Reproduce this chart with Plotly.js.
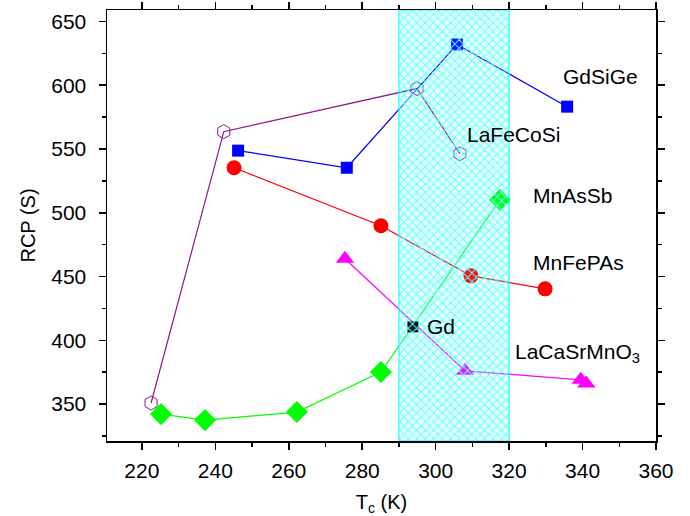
<!DOCTYPE html>
<html><head><meta charset="utf-8">
<script src="https://cdn.plot.ly/plotly-3.0.1.min.js"></script>
<style>html,body{margin:0;padding:0;background:#fff}#chart{width:690px;height:516px}</style>
</head><body><div id="chart"></div>
<script>
// LaFeCoSi (open hexagons, purple)
const hexX = [222.5, 242.3, 294.9, 306.6];
const hexY = [350.8, 563.6, 597.4, 546.3];
// GdSiGe (blue squares)
const gdsigeX = [246.2, 275.8, 305.8, 335.8];
const gdsigeY = [548.7, 535.3, 632.0, 583.2];
// MnFePAs (red circles)
const mnfepasX = [245.1, 285.1, 309.6, 329.8];
const mnfepasY = [535.3, 489.8, 450.5, 440.3];
// MnAsSb (green diamonds)
const mnassbX = [225.2, 237.2, 262.2, 285.1, 317.5];
const mnassbY = [342.1, 337.4, 343.7, 375.1, 510.2];
// LaCaSrMnO3 (magenta triangles)
const lcsmoX = [275.3, 308.0, 339.5, 341.0];
const lcsmoY = [463.9, 376.0, 369.0, 366.0];
// Gd (black square)
const gdX = [293.8];
const gdY = [410.5];
// shaded temperature band
const bandX = [290, 320];
const xRange = [210.5, 360];
const yRange = [321, 659];
// labels
const labelText = ['GdSiGe', 'LaFeCoSi', 'MnAsSb', 'MnFePAs', 'Gd', 'LaCaSrMnO<sub>3</sub>'];
const labelX = [334.1, 308.0, 326.0, 326.0, 297.1, 321.0];
const labelY = [606.8, 561.3, 513.3, 460.7, 410.5, 390.0];

const FONT = 'Liberation Sans, Arial, Helvetica, sans-serif';
const line = (c) => ({color: c, width: 1.2});
const traces = [
  {x: hexX, y: hexY, mode: 'lines+markers', line: line('#8B1A8B'),
   marker: {symbol: 'hexagon-open', size: 14, color: '#8B1A8B', line: {width: 1, color: '#8B1A8B'}}},
  {x: gdsigeX, y: gdsigeY, mode: 'lines+markers', line: line('#0000FF'),
   marker: {symbol: 'square', size: 12, color: '#0000FF'}},
  {x: mnfepasX, y: mnfepasY, mode: 'lines+markers', line: line('#FF0000'),
   marker: {symbol: 'circle', size: 15, color: '#FF0000'}},
  {x: mnassbX, y: mnassbY, mode: 'lines+markers', line: line('#00FF00'),
   marker: {symbol: 'diamond', size: 17, color: '#00FF00'}},
  {x: lcsmoX, y: lcsmoY, mode: 'lines+markers', line: line('#FF00FF'),
   marker: {symbol: 'triangle-up', size: 16, color: '#FF00FF'}},
  {x: gdX, y: gdY, mode: 'markers',
   marker: {symbol: 'square', size: 11, color: '#000000'}},
  {x: [bandX[0], bandX[1], bandX[1], bandX[0], bandX[0]],
   y: [yRange[0], yRange[0], yRange[1], yRange[1], yRange[0]],
   mode: 'lines', fill: 'toself', line: {color: '#00FFFF', width: 1},
   fillcolor: 'rgba(0,255,255,0.10)',
   fillpattern: {shape: 'x', fgcolor: '#66FFFF', fgopacity: 1, size: 6, solidity: 0.3, fillmode: 'overlay'}}
];

const annotations = labelText.map((t, i) => ({
  x: labelX[i], y: labelY[i], xref: 'x', yref: 'y', text: t, showarrow: false,
  xanchor: 'left', yanchor: 'middle', font: {size: 21, color: '#000', family: FONT}
}));

const layout = {
  width: 690, height: 516,
  margin: {l: 107, r: 34, t: 10, b: 75},
  paper_bgcolor: '#fff', plot_bgcolor: '#fff',
  showlegend: false,
  font: {family: FONT, size: 21, color: '#000'},
  xaxis: {range: xRange, tickvals: [220, 240, 260, 280, 300, 320, 340, 360],
    ticks: 'outside', ticklen: 7, tickwidth: 1.5, tickcolor: '#000', tickfont: {size: 21},
    ticklabelstandoff: 3,
    minor: {dtick: 10, tick0: 210, ticks: 'outside', ticklen: 4, tickcolor: '#000'},
    showline: true, linecolor: '#000', linewidth: 1.5, mirror: 'ticks', showgrid: false, zeroline: false,
    title: {text: 'T<sub>c</sub> (K)', font: {size: 20}, standoff: 14}},
  yaxis: {range: yRange, tickvals: [350, 400, 450, 500, 550, 600, 650],
    ticks: 'outside', ticklen: 7, tickwidth: 1.5, tickcolor: '#000', tickfont: {size: 21},
    ticklabelstandoff: 8,
    minor: {dtick: 25, tick0: 325, ticks: 'outside', ticklen: 4, tickcolor: '#000'},
    showline: true, linecolor: '#000', linewidth: 1.5, mirror: 'ticks', showgrid: false, zeroline: false,
    title: {text: 'RCP (S)', font: {size: 20}, standoff: 10}},
  annotations: annotations
};

Plotly.newPlot('chart', traces, layout, {displayModeBar: false, staticPlot: true});
</script>
</body></html>
